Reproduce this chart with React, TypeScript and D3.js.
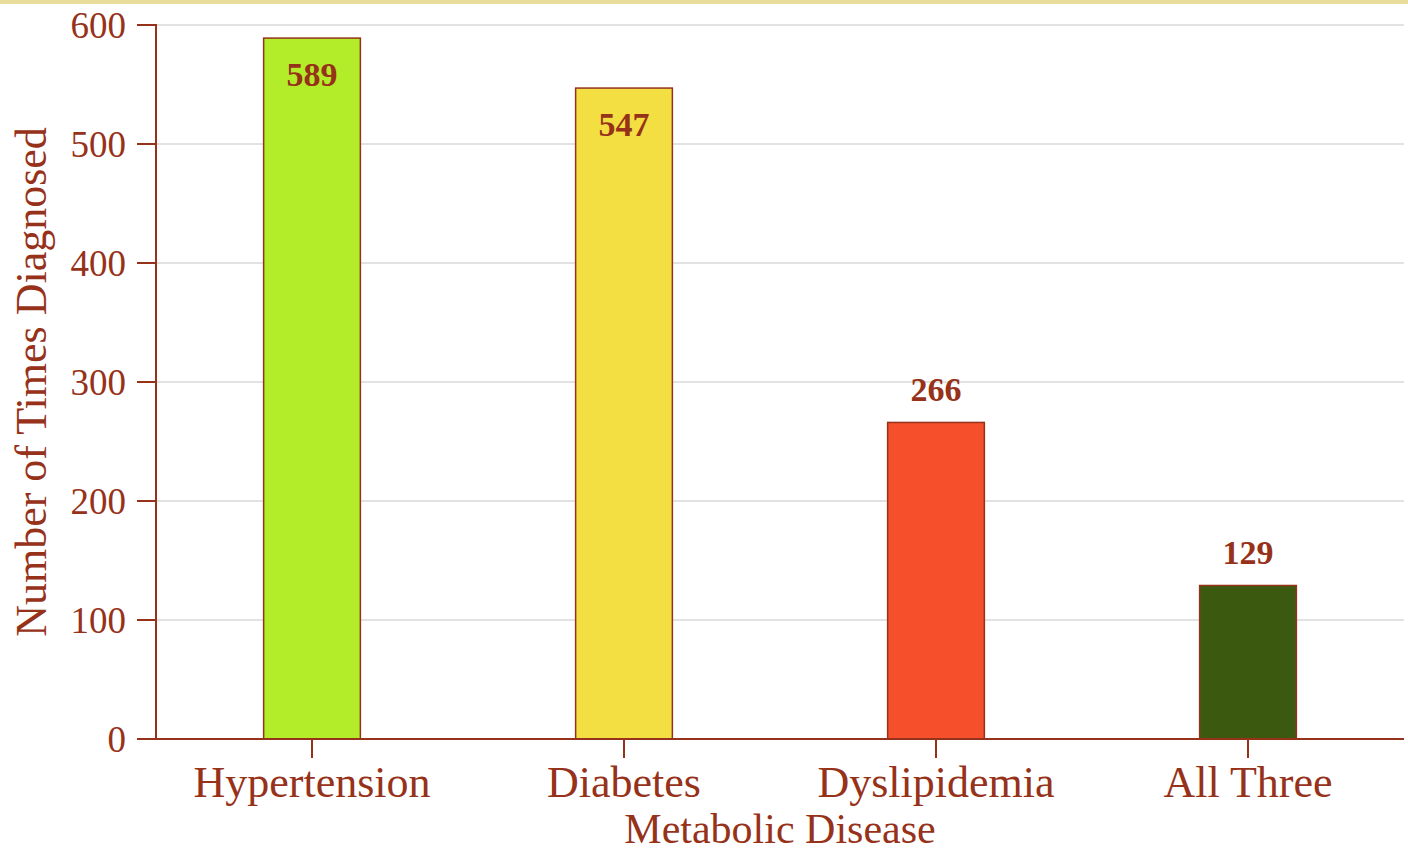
import React from "react";
import * as d3 from "d3";

const categories = ["Hypertension", "Diabetes", "Dyslipidemia", "All Three"];
const values = [589, 547, 266, 129];
const barColors = ["#b3ec28", "#f3df42", "#f5502b", "#3b5a0f"];
const yTicks = [0, 100, 200, 300, 400, 500, 600];

const W = 1408;
const H = 853;
const left = 156;
const right = 1404;
const top = 25;
const bottom = 739;
const ink = "#97321a";
const font = "'Liberation Serif', serif";

export default function App() {
  const x = d3.scaleBand<string>().domain(categories).range([left, right]).paddingInner(0.69).paddingOuter(0.345);
  const y = d3.scaleLinear().domain([0, 600]).range([bottom, top]);
  const bw = x.bandwidth();
  return (
    <svg width={W} height={H} style={{ position: "absolute", left: 0, top: 0, background: "#fff" }}>
      <rect x={0} y={0} width={W} height={4} fill="#e9dd9b" />
      {yTicks.map((t) => (
        <line key={"g" + t} x1={left} x2={right} y1={y(t)} y2={y(t)} stroke="#e2e2e2" strokeWidth={2} />
      ))}
      {categories.map((c, i) => (
        <rect
          key={c}
          x={x(c)!}
          y={y(values[i])}
          width={bw}
          height={bottom - y(values[i])}
          fill={barColors[i]}
          stroke={ink}
          strokeWidth={1.5}
        />
      ))}
      {categories.map((c, i) => {
        const inside = values[i] > 400;
        const ty = inside ? y(values[i]) + 48 : y(values[i]) - 21;
        return (
          <text
            key={"v" + c}
            x={x(c)! + bw / 2}
            y={ty}
            textAnchor="middle"
            fontFamily={font}
            fontWeight="bold"
            fontSize={34}
            fill={ink}
          >
            {values[i]}
          </text>
        );
      })}
      <path d={`M${left - 19},${top}H${left}V${bottom}H${left - 19}`} fill="none" stroke={ink} strokeWidth={2} />
      {yTicks.map((t) => (
        <g key={"yt" + t}>
          <line x1={left - 19} x2={left} y1={y(t)} y2={y(t)} stroke={ink} strokeWidth={2} />
          <text x={126} y={y(t)} dy="0.34em" textAnchor="end" fontFamily={font} fontSize={37} fill={ink}>
            {t}
          </text>
        </g>
      ))}
      <line x1={left} x2={right} y1={bottom} y2={bottom} stroke={ink} strokeWidth={2} />
      {categories.map((c) => (
        <g key={"xt" + c}>
          <line x1={x(c)! + bw / 2} x2={x(c)! + bw / 2} y1={bottom} y2={bottom + 19} stroke={ink} strokeWidth={2} />
          <text x={x(c)! + bw / 2} y={797} textAnchor="middle" fontFamily={font} fontSize={44} fill={ink}>
            {c}
          </text>
        </g>
      ))}
      <text x={(left + right) / 2} y={843} textAnchor="middle" fontFamily={font} fontSize={42} fill={ink}>
        Metabolic Disease
      </text>
      <text
        transform={`translate(46,${(top + bottom) / 2}) rotate(-90)`}
        textAnchor="middle"
        fontFamily={font}
        fontSize={44}
        fill={ink}
      >
        Number of Times Diagnosed
      </text>
    </svg>
  );
}
